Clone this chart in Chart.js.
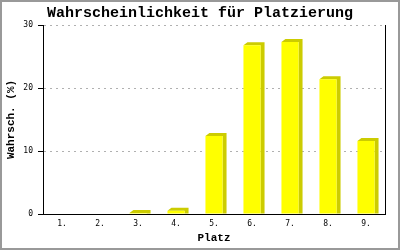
<!DOCTYPE html>
<html>
<head>
<meta charset="utf-8">
<script src="https://cdn.jsdelivr.net/npm/chart.js@4/dist/chart.umd.min.js"></script>
<style>
  html, body { margin: 0; padding: 0; background: #fff; }
  #wrap { width: 400px; height: 250px; }
</style>
</head>
<body>
<div id="wrap"><canvas id="c" width="400" height="250"></canvas></div>
<script>
const categories = ['1.', '2.', '3.', '4.', '5.', '6.', '7.', '8.', '9.'];
const values = [0, 0, 0.15, 0.5, 12.4, 26.8, 27.3, 21.4, 11.6];
const yTicks = [0, 10, 20, 30];
const titleText = 'Wahrscheinlichkeit für Platzierung';
const xTitle = 'Platz';
const yTitle = 'Wahrsch. (%)';

const MONO = '"Liberation Mono", "DejaVu Sans Mono", monospace';
const TICKMONO = '"DejaVu Sans Mono", "Liberation Mono", monospace';

const frame = {
  id: 'frame',
  beforeDraw(chart) {
    const ctx = chart.ctx;
    ctx.save();
    ctx.fillStyle = '#fff';
    ctx.fillRect(0, 0, chart.width, chart.height);
    ctx.restore();
  },
  afterDraw(chart) {
    const ctx = chart.ctx;
    ctx.save();
    ctx.strokeStyle = '#999';
    ctx.lineWidth = 2;
    ctx.strokeRect(1, 1, chart.width - 2, chart.height - 2);
    ctx.restore();
  }
};

const depth3d = {
  id: 'depth3d',
  beforeDatasetsDraw(chart) {
    const ctx = chart.ctx;
    const meta = chart.getDatasetMeta(0);
    const dx = 4, dy = 3;
    ctx.save();
    ctx.fillStyle = '#cccc00';
    meta.data.forEach((bar, i) => {
      if (!values[i]) return;
      const p = bar.getProps(['x', 'y', 'base', 'width'], true);
      const l = p.x - p.width / 2, r = p.x + p.width / 2;
      ctx.beginPath();
      ctx.moveTo(l, p.y);
      ctx.lineTo(l + dx, p.y - dy);
      ctx.lineTo(r + dx, p.y - dy);
      ctx.lineTo(r + dx, p.base);
      ctx.lineTo(r, p.base);
      ctx.lineTo(r, p.y);
      ctx.closePath();
      ctx.fill();
    });
    ctx.restore();
  }
};

new Chart(document.getElementById('c'), {
  type: 'bar',
  data: {
    labels: categories,
    datasets: [{
      data: values,
      backgroundColor: '#ffff00',
      borderWidth: 0,
      barPercentage: 0.45,
      categoryPercentage: 1.0
    }]
  },
  options: {
    responsive: false,
    animation: false,
    layout: { padding: 0 },
    plugins: {
      legend: { display: false },
      tooltip: { enabled: false },
      title: {
        display: true,
        text: titleText,
        color: '#000',
        font: { family: MONO, size: 15, weight: 'bold', lineHeight: 1.2 },
        padding: { top: 4, bottom: 3 }
      }
    },
    scales: {
      x: {
        grid: { display: false, drawTicks: false },
        border: { display: true, color: '#000', width: 1 },
        ticks: {
          color: '#000',
          font: { family: TICKMONO, size: 8 },
          padding: 5,
          maxRotation: 0,
          autoSkip: false
        },
        title: {
          display: true,
          text: xTitle,
          color: '#000',
          font: { family: MONO, size: 11, weight: 'bold', lineHeight: 1.2 },
          padding: { top: 0, bottom: 5 }
        },
        afterFit(scale) { scale.height = 36; }
      },
      y: {
        min: 0,
        max: 30,
        afterBuildTicks(scale) { scale.ticks = yTicks.map(v => ({ value: v })); },
        grid: {
          color: (c) => (c.tick && c.tick.value === 0) ? 'rgba(0,0,0,0)' : '#b0b0b0',
          tickBorderDash: [],
          tickColor: '#000',
          tickLength: 5,
          drawTicks: true
        },
        border: { display: true, color: '#000', width: 1, dash: [2, 4] },
        ticks: {
          color: '#000',
          font: { family: TICKMONO, size: 8 },
          padding: 5
        },
        title: {
          display: true,
          text: yTitle,
          color: '#000',
          font: { family: MONO, size: 11, weight: 'bold', lineHeight: 1.2 },
          padding: { top: 5, bottom: 0 }
        },
        afterFit(scale) { scale.width = 43; }
      },
      yr: {
        type: 'linear',
        position: 'right',
        display: true,
        min: 0,
        max: 30,
        grid: { drawOnChartArea: false, drawTicks: false },
        border: { display: true, color: '#000', width: 1 },
        ticks: { display: false },
        afterFit(scale) { scale.width = 15; }
      }
    }
  },
  plugins: [frame, depth3d]
});
</script>
</body>
</html>
